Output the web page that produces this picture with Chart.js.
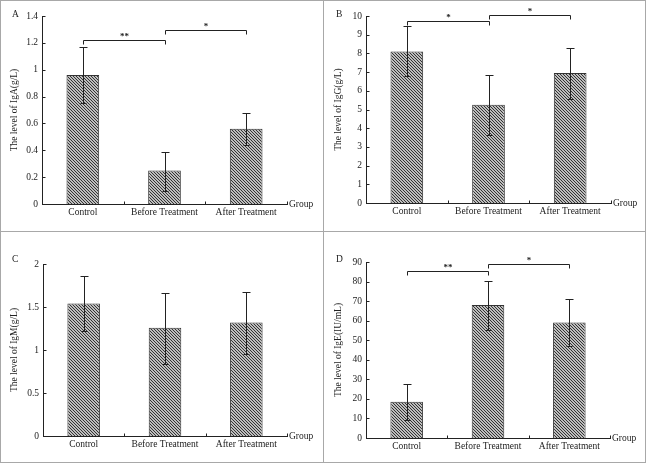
<!DOCTYPE html>
<html>
<head>
<meta charset="utf-8">
<script src="https://cdn.jsdelivr.net/npm/chart.js@4/dist/chart.umd.min.js"></script>
<style>
  body { margin: 0; background: #fff; }
  #wrap { position: relative; width: 647px; height: 464px; }
  .frame { position: absolute; border: 1px solid #a8a8a8; box-sizing: border-box; }
  canvas { position: absolute; }
</style>
</head>
<body>
<div id="wrap">
  <div class="frame" style="left:0;top:0;width:324px;height:232px"></div>
  <div class="frame" style="left:323px;top:0;width:323px;height:232px"></div>
  <div class="frame" style="left:0;top:231px;width:324px;height:232px"></div>
  <div class="frame" style="left:323px;top:231px;width:323px;height:232px"></div>
  <canvas id="chartA" width="322" height="230" style="left:0;top:0"></canvas>
  <canvas id="chartB" width="322" height="230" style="left:324px;top:0"></canvas>
  <canvas id="chartC" width="322" height="230" style="left:0;top:232px"></canvas>
  <canvas id="chartD" width="322" height="230" style="left:324px;top:232px"></canvas>
</div>
<script>
const groups = ['Control', 'Before Treatment', 'After Treatment'];

// IgA (g/L)
const igaMean = [0.96, 0.25, 0.56];
const igaHigh = [1.17, 0.39, 0.68];
const igaLow = [0.75, 0.10, 0.44];
const igaSig = [[0, 1, 1.224, '**'], [1, 2, 1.296, '*']];

// IgG (g/L)
const iggMean = [8.1, 5.25, 6.95];
const iggHigh = [9.45, 6.85, 8.3];
const iggLow = [6.8, 3.65, 5.55];
const iggSig = [[0, 1, 9.73, '*'], [1, 2, 10.07, '*']];

// IgM (g/L)
const igmMean = [1.54, 1.26, 1.32];
const igmHigh = [1.86, 1.66, 1.68];
const igmLow = [1.22, 0.84, 0.95];
const igmSig = [];

// IgE (IU/mL)
const igeMean = [18.5, 68, 59];
const igeHigh = [27.5, 80.5, 71];
const igeLow = [9, 55, 47];
const igeSig = [[0, 1, 85.4, '**'], [1, 2, 89.1, '*']];

const FONT = 'Liberation Serif, Times New Roman, serif';
const INK = '#222';

function hatch() {
  const c = document.createElement('canvas');
  c.width = c.height = 3;
  const g = c.getContext('2d');
  g.fillStyle = '#bdbdbd';
  g.fillRect(0, 0, 3, 3);
  g.fillStyle = '#333';
  for (let i = 0; i < 3; i++) g.fillRect(i, i, 1, 1);
  return g.createPattern(c, 'repeat');
}

const extras = {
  id: 'extras',
  afterDatasetsDraw(chart, args, opts) {
    const ctx = chart.ctx;
    const x = chart.scales.x, y = chart.scales.y;
    const area = chart.chartArea;
    ctx.save();
    ctx.strokeStyle = INK;
    ctx.fillStyle = INK;
    ctx.lineWidth = 1;

    // error bars
    opts.high.forEach((h, i) => {
      const cx = Math.round(x.getPixelForValue(i)) + 0.5;
      const yh = Math.round(y.getPixelForValue(h)) + 0.5;
      const yl = Math.round(y.getPixelForValue(opts.low[i])) + 0.5;
      ctx.beginPath();
      ctx.moveTo(cx, yh); ctx.lineTo(cx, yl);
      ctx.moveTo(cx - 4, yh); ctx.lineTo(cx + 4, yh);
      ctx.moveTo(cx - 3, yl); ctx.lineTo(cx + 3, yl);
      ctx.stroke();
    });

    // significance brackets
    ctx.font = 'bold 9px ' + FONT;
    ctx.textAlign = 'center';
    ctx.textBaseline = 'bottom';
    opts.sig.forEach(([a, b, v, label]) => {
      const x1 = Math.round(x.getPixelForValue(a)) + 0.5;
      const x2 = Math.round(x.getPixelForValue(b)) + 0.5;
      const yy = Math.round(y.getPixelForValue(v)) + 0.5;
      ctx.beginPath();
      ctx.moveTo(x1, yy + 4); ctx.lineTo(x1, yy); ctx.lineTo(x2, yy); ctx.lineTo(x2, yy + 4);
      ctx.stroke();
      ctx.fillText(label, (x1 + x2) / 2, yy + 1);
    });

    // inward tick marks on y axis
    const ax = area.left + 0.5;
    y.ticks.forEach(t => {
      const ty = Math.round(y.getPixelForValue(t.value)) + 0.5;
      ctx.beginPath(); ctx.moveTo(ax, ty); ctx.lineTo(ax + 3, ty); ctx.stroke();
    });
    // category separators and end tick on x axis
    const by = area.bottom + 0.5;
    const half = (x.getPixelForValue(1) - x.getPixelForValue(0)) / 2;
    for (let i = 0; i < groups.length; i++) {
      const tx = Math.round(x.getPixelForValue(i) + half) + 0.5;
      ctx.beginPath(); ctx.moveTo(tx, by); ctx.lineTo(tx, by - 3); ctx.stroke();
    }

    // axis name and panel letter
    ctx.font = '9.5px ' + FONT;
    ctx.textAlign = 'left';
    ctx.textBaseline = 'middle';
    ctx.fillText('Group', area.right + 2, area.bottom);
    ctx.fillText(opts.letter, 12, opts.letterY);
    ctx.restore();
  }
};

function makeChart(id, letter, letterY, title, mean, high, low, sig, max, step, box) {
  new Chart(document.getElementById(id), {
    type: 'bar',
    data: {
      labels: groups,
      datasets: [{
        data: mean,
        backgroundColor: hatch(),
        borderColor: '#333',
        borderWidth: 1,
        barPercentage: 0.4,
        categoryPercentage: 1
      }]
    },
    options: {
      responsive: false,
      animation: false,
      devicePixelRatio: 1,
      layout: { padding: { left: 0, top: box.top, right: 322 - box.right, bottom: 0 } },
      plugins: {
        legend: { display: false },
        tooltip: { enabled: false },
        extras: { letter: letter, letterY: letterY, high: high, low: low, sig: sig }
      },
      scales: {
        x: {
          grid: { display: false, drawTicks: false },
          border: { display: true, color: INK, width: 1 },
          ticks: { color: INK, font: { family: FONT, size: 9.5 }, padding: 3, maxRotation: 0 },
          afterFit: s => { s.height = 230 - box.bottom; }
        },
        y: {
          min: 0,
          max: max,
          grid: { display: false, drawTicks: false },
          border: { display: true, color: INK, width: 1 },
          ticks: {
            stepSize: step,
            color: INK,
            font: { family: FONT, size: 9.5 },
            padding: 4,
            callback: v => String(+v.toFixed(2))
          },
          title: { display: true, text: title, color: INK, font: { family: FONT, size: 9.5 }, padding: { top: 9, bottom: 0 } },
          afterFit: s => { s.width = box.left; }
        }
      }
    },
    plugins: [extras]
  });
}

makeChart('chartA', 'A', 14, 'The level of IgA(g/L)', igaMean, igaHigh, igaLow, igaSig, 1.4, 0.2,
  { left: 42, right: 287, top: 16, bottom: 204 });
makeChart('chartB', 'B', 14, 'The level of IgG(g/L)', iggMean, iggHigh, iggLow, iggSig, 10, 1,
  { left: 42, right: 287, top: 16, bottom: 203 });
makeChart('chartC', 'C', 27, 'The level of IgM(g/L)', igmMean, igmHigh, igmLow, igmSig, 2, 0.5,
  { left: 43, right: 287, top: 32, bottom: 204 });
makeChart('chartD', 'D', 27, 'The level of IgE(IU/mL)', igeMean, igeHigh, igeLow, igeSig, 90, 10,
  { left: 42, right: 286, top: 30, bottom: 206 });
</script>
</body>
</html>
